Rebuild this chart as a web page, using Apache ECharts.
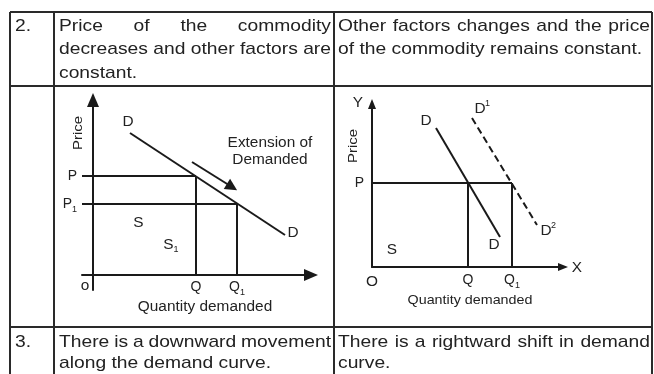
<!DOCTYPE html>
<html>
<head>
<meta charset="utf-8">
<title>Extension of demand vs increase in demand</title>
<script src="https://cdn.jsdelivr.net/npm/echarts@6/dist/echarts.min.js"></script>
<style>
  html, body { margin: 0; padding: 0; background: #fff; }
  #chart { width: 654px; height: 374px; }
</style>
</head>
<body>
<div id="chart"></div>
<script>
// table text
var rowNumbers = ['2.', '3.'];
var rowTwoLeft = ['Price of the commodity', 'decreases and other factors are', 'constant.'];
var rowTwoRight = ['Other factors changes and the price', 'of the commodity remains constant.'];
var rowThreeLeft = ['There is a downward movement', 'along the demand curve.'];
var rowThreeRight = ['There is a rightward shift in demand', 'curve.'];

// left diagram: price falls from P to P1, movement along D
var demandLeft = [[1.85, 7.1], [9.6, 2.0]];
var pricesLeft = [4.95, 3.55];
var qtyLeft = [5.15, 7.2];
var extensionArrow = [[4.95, 5.65], [6.95, 4.4]];
var priceTicksLeft = ['P', 'P{s|1}'];
var qtyTicksLeft = ['Q', 'Q{s|1}'];
// [text, x, y, subscript, superscript]
var labelsLeft = [['D', 1.75, 7.65], ['D', 10.0, 2.1], ['S', 2.27, 2.59], ['S', 3.77, 1.5, '1'], ['o', -0.4, -0.58]];
var captionsLeft = [['Extension of', 8.85, 6.6], ['Demanded', 8.85, 5.75], ['Quantity demanded', 5.6, -1.6]];
var priceNameLeft = [-0.75, 7.1];

// right diagram: same price, demand curve shifts right
var demandRight = [[3.2, 6.95], [6.4, 1.5]];
var demandRightNew = [[5.0, 7.45], [8.25, 2.1]];
var priceRight = 4.2;
var qtyRight = [4.8, 7.0];
var priceTicksRight = ['P'];
var qtyTicksRight = ['Q', 'Q{s|1}'];
var labelsRight = [['Y', -0.7, 8.2], ['D', 2.7, 7.3], ['D', 5.4, 7.9, null, '1'], ['D', 6.1, 1.1],
  ['D', 8.7, 1.8, null, '2'], ['S', 1.0, 0.85], ['O', 0, -0.75], ['X', 10.25, -0.05]];
var captionsRight = [['Quantity demanded', 4.9, -1.65]];
var priceNameRight = [-0.95, 6.05];

var INK = '#1a1a1a';
var TEXT_COLOR = '#222';
var FAMILY = '"Liberation Sans", Arial, sans-serif';
var BODY_FONT = '17px ' + FAMILY;
var LETTER_FONT = '14px ' + FAMILY;
var SMALL_FONT = '9px ' + FAMILY;

var chart = echarts.init(document.getElementById('chart'));

var measureCtx = document.createElement('canvas').getContext('2d');
function textWidth(str, font) {
  measureCtx.font = font;
  return measureCtx.measureText(str).width;
}

function segment(points, idx, dashed) {
  return {
    type: 'line', xAxisIndex: idx, yAxisIndex: idx, data: points, symbol: 'none', silent: true,
    lineStyle: { color: INK, width: 2, type: dashed ? [7, 4] : 'solid' }
  };
}

// margins are measured from the grid edge
function tickLabels(values, names, margin) {
  return {
    customValues: values, margin: margin, fontSize: 14, lineHeight: 20, color: TEXT_COLOR, fontFamily: FAMILY,
    formatter: function (v) {
      var best = 0;
      values.forEach(function (t, i) { if (Math.abs(t - v) < Math.abs(values[best] - v)) best = i; });
      return names[best];
    },
    rich: { s: { fontSize: 9, lineHeight: 9, verticalAlign: 'bottom', color: TEXT_COLOR, fontFamily: FAMILY } }
  };
}

function axis(idx, min, max, arrow, labels) {
  return {
    type: 'value', gridIndex: idx, min: min, max: max,
    splitLine: { show: false }, axisTick: { show: false },
    axisLine: { onZero: true, symbol: ['none', 'triangle'], symbolSize: arrow, lineStyle: { color: INK, width: 2 } },
    axisLabel: labels
  };
}

var series = [segment(demandLeft, 0)];
pricesLeft.forEach(function (p, i) {
  series.push(segment([[-0.55, p], [qtyLeft[i], p]], 0));
  series.push(segment([[qtyLeft[i], 0], [qtyLeft[i], p]], 0));
});
series.push({
  type: 'lines', coordinateSystem: 'cartesian2d', xAxisIndex: 0, yAxisIndex: 0, silent: true,
  symbol: ['none', 'triangle'], symbolSize: 12,
  lineStyle: { color: INK, width: 2, opacity: 1 },
  data: [{ coords: extensionArrow }]
});
series.push(segment(demandRight, 1));
series.push(segment(demandRightNew, 1, true));
series.push(segment([[0, priceRight], [qtyRight[1], priceRight]], 1));
qtyRight.forEach(function (q) {
  series.push(segment([[q, 0], [q, priceRight]], 1));
});

chart.setOption({
  animation: false,
  backgroundColor: '#fff',
  grid: [
    { left: 82, top: 100, width: 229, height: 190 },
    { left: 372, top: 104, width: 191, height: 163 }
  ],
  xAxis: [
    axis(0, -0.55, 10.9, [12, 14], tickLabels(qtyLeft, qtyTicksLeft, -13)),
    axis(1, 0, 9.55, [8, 10], tickLabels(qtyRight, qtyTicksRight, 3))
  ],
  yAxis: [
    axis(0, -0.75, 8.75, [12, 14], tickLabels(pricesLeft, priceTicksLeft, 5)),
    axis(1, 0, 8.15, [8, 10], tickLabels([priceRight], priceTicksRight, 8))
  ],
  series: series
});

function textEl(str, x, y, font, sx, align, rotation) {
  return {
    type: 'text', x: x, y: y, scaleX: sx, rotation: rotation || 0, silent: true,
    style: { text: str, font: font, fill: TEXT_COLOR, textAlign: align, textVerticalAlign: 'middle', align: align, verticalAlign: 'middle' }
  };
}

var graphics = [];

// table rules
var tableLines = [[10, 12, 652, 12], [10, 86, 652, 86], [10, 327, 652, 327],
  [10, 12, 10, 374], [54, 12, 54, 374], [334, 12, 334, 374], [652, 12, 652, 374]];
tableLines.forEach(function (l) {
  graphics.push({ type: 'line', silent: true, shape: { x1: l[0], y1: l[1], x2: l[2], y2: l[3] },
    style: { stroke: '#2a2a2a', lineWidth: 2 } });
});

// body text, justified like the printed table
var bodyStretch = (331 - 59) / textWidth(rowTwoLeft[1], BODY_FONT);
function paragraph(lines, x0, x1, y0, step) {
  lines.forEach(function (line, i) {
    var words = line.split(' ');
    var widths = words.map(function (w) { return textWidth(w, BODY_FONT) * bodyStretch; });
    var used = widths.reduce(function (a, b) { return a + b; }, 0);
    var justify = i < lines.length - 1 && words.length > 1;
    var gap = justify ? (x1 - x0 - used) / (words.length - 1) : textWidth(' ', BODY_FONT) * bodyStretch;
    var x = x0;
    words.forEach(function (w, k) {
      graphics.push(textEl(w, x, y0 + i * step, BODY_FONT, bodyStretch, 'left'));
      x += widths[k] + gap;
    });
  });
}
graphics.push(textEl(rowNumbers[0], 15, 26, BODY_FONT, bodyStretch, 'left'));
graphics.push(textEl(rowNumbers[1], 15, 342, BODY_FONT, bodyStretch, 'left'));
paragraph(rowTwoLeft, 59, 331, 26, 23.5);
paragraph(rowTwoRight, 338, 650, 26, 23.5);
paragraph(rowThreeLeft, 59, 331, 342, 21.5);
paragraph(rowThreeRight, 338, 650, 342, 21.5);

// diagram annotations placed through the grid scales
function placeLabels(list, idx) {
  list.forEach(function (l) {
    var p = chart.convertToPixel({ gridIndex: idx }, [l[1], l[2]]);
    graphics.push(textEl(l[0], p[0], p[1], LETTER_FONT, 1.1, 'center'));
    if (l[3]) graphics.push(textEl(l[3], p[0] + 5, p[1] + 5, SMALL_FONT, 1, 'left'));
    if (l[4]) graphics.push(textEl(l[4], p[0] + 5, p[1] - 5, SMALL_FONT, 1, 'left'));
  });
}
function placeCaptions(list, idx, font) {
  list.forEach(function (l) {
    var p = chart.convertToPixel({ gridIndex: idx }, [l[1], l[2]]);
    graphics.push(textEl(l[0], p[0], p[1], font, 1.1, 'center'));
  });
}
placeLabels(labelsLeft, 0);
placeLabels(labelsRight, 1);
placeCaptions(captionsLeft, 0, '14px ' + FAMILY);
placeCaptions(captionsRight, 1, '13px ' + FAMILY);
[[priceNameLeft, 0], [priceNameRight, 1]].forEach(function (n) {
  var p = chart.convertToPixel({ gridIndex: n[1] }, n[0]);
  graphics.push(textEl('Price', p[0], p[1], '13px ' + FAMILY, 1.15, 'center', Math.PI / 2));
});

chart.setOption({ graphic: graphics });
</script>
</body>
</html>
